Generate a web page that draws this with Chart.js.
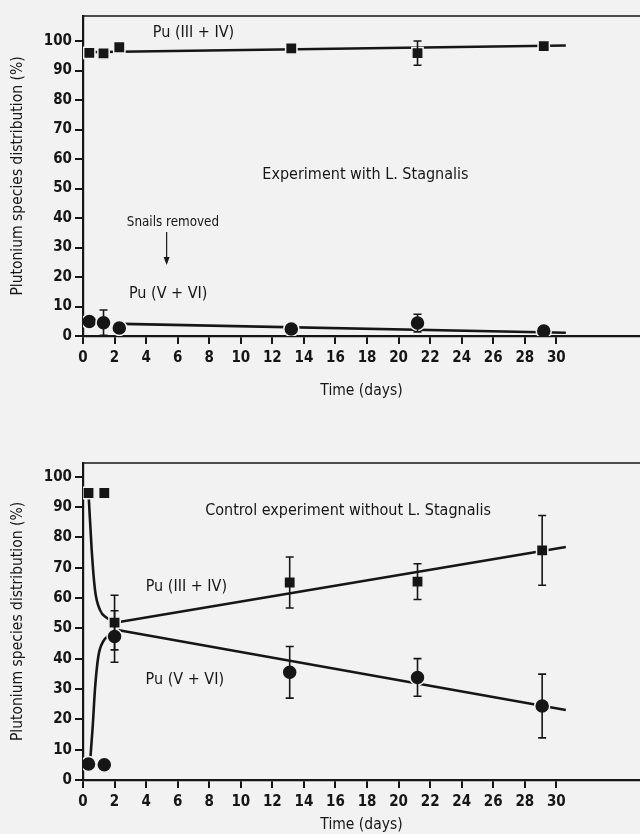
<!DOCTYPE html>
<html>
<head>
<meta charset="utf-8">
<script src="https://cdn.jsdelivr.net/npm/chart.js@4.4.1/dist/chart.umd.min.js"></script>
<style>
  html, body { margin: 0; padding: 0; background: #f2f2f2; }
  .panel { position: absolute; left: 0; width: 640px; }
  #topPanel { top: 0; height: 400px; }
  #bottomPanel { top: 400px; height: 434px; }
</style>
</head>
<body>
<div class="panel" id="topPanel"><canvas id="withSnailsChart"></canvas></div>
<div class="panel" id="bottomPanel"><canvas id="controlChart"></canvas></div>
<script>
const FONT = '"DejaVu Sans Condensed", "Liberation Sans Narrow", sans-serif';
const INK = '#161616';
const PAPER = '#f2f2f2';

// Experiment with L. stagnalis
const daysWith = [0.4, 1.3, 2.3, 13.2, 21.2, 29.2];
const pu34With = [96.0, 95.8, 97.9, 97.5, 95.9, 98.3];
const pu34WithErr = [0, 0, 0, 0, 4.1, 0];
const pu56With = [4.9, 4.5, 2.7, 2.4, 4.4, 1.7];
const pu56WithErr = [0, 4.3, 0, 0, 3.0, 0];
const fitDays34With = [0, 30.6];
const fit34With = [96.2, 98.5];
const fitDays56With = [2.5, 30.6];
const fit56With = [4.1, 1.1];

// Control experiment without snails
const daysCtrl = [0.35, 1.35, 2.0, 13.1, 21.2, 29.1];
const pu34Ctrl = [94.6, 94.6, 51.9, 65.1, 65.4, 75.7];
const pu34CtrlErr = [0, 0, 9.0, 8.4, 5.9, 11.5];
const pu56Ctrl = [5.3, 5.0, 47.3, 35.5, 33.8, 24.4];
const pu56CtrlErr = [0, 0, 8.5, 8.5, 6.2, 10.5];
const dropDays = [0.35, 0.55, 0.76, 1.08, 1.5, 2.1];
const drop34 = [94.6, 75.9, 62.7, 56.0, 53.5, 51.9];
const riseDays = [0.45, 0.62, 0.76, 0.97, 1.27, 1.6, 2.1];
const rise56 = [6, 18, 30, 40.7, 45.6, 47.5, 49.5];
const fitDaysCtrl = [2.1, 30.6];
const fit34Ctrl = [51.9, 76.8];
const fit56Ctrl = [49.5, 23.1];

// Axis ticks
const dayTicks = [0, 2, 4, 6, 8, 10, 12, 14, 16, 18, 20, 22, 24, 26, 28, 30];
const percentTicks = [0, 10, 20, 30, 40, 50, 60, 70, 80, 90, 100];

const pts = (xs, ys) => xs.map((x, i) => ({ x: x, y: ys[i] }));

function markers(xs, ys, errs, style) {
    return {
        type: 'scatter',
        data: pts(xs, ys),
        errors: errs,
        pointStyle: style,
        pointRadius: style === 'rect' ? 8 : 7.5,
        pointBackgroundColor: INK,
        pointBorderColor: PAPER,
        pointBorderWidth: 1.5,
        order: 1
    };
}

function curve(xs, ys, smooth) {
    return {
        type: 'line',
        data: pts(xs, ys),
        borderColor: INK,
        borderWidth: 2.6,
        pointRadius: 0,
        cubicInterpolationMode: smooth ? 'monotone' : 'default',
        tension: 0,
        order: 2
    };
}

// vertical error bars with caps
const errorBars = {
    id: 'errorBars',
    afterDatasetsDraw(chart) {
        const ctx = chart.ctx;
        const yScale = chart.scales.y;
        chart.data.datasets.forEach((ds, i) => {
            if (!ds.errors) return;
            const meta = chart.getDatasetMeta(i);
            ds.data.forEach((p, j) => {
                const e = ds.errors[j];
                if (!e) return;
                const x = meta.data[j].x;
                const yTop = yScale.getPixelForValue(p.y + e);
                const yBot = yScale.getPixelForValue(p.y - e);
                ctx.save();
                ctx.strokeStyle = INK;
                ctx.lineWidth = 1.6;
                ctx.beginPath();
                ctx.moveTo(x, yTop); ctx.lineTo(x, yBot);
                ctx.moveTo(x - 4, yTop); ctx.lineTo(x + 4, yTop);
                ctx.moveTo(x - 4, yBot); ctx.lineTo(x + 4, yBot);
                ctx.stroke();
                ctx.restore();
            });
        });
    }
};

// top frame line, in-plot labels and the arrow
const notes = {
    id: 'notes',
    afterDraw(chart, args, opts) {
        const ctx = chart.ctx;
        const area = chart.chartArea;
        const xs = chart.scales.x, ys = chart.scales.y;
        ctx.save();
        ctx.strokeStyle = INK;
        ctx.lineWidth = 1.5;
        ctx.beginPath();
        ctx.moveTo(area.left, area.top);
        ctx.lineTo(area.right, area.top);
        ctx.stroke();

        ctx.fillStyle = INK;
        ctx.textAlign = 'center';
        ctx.textBaseline = 'middle';
        (opts.labels || []).forEach(l => {
            ctx.font = (l.size || 16) + 'px ' + FONT;
            ctx.fillText(l.text, xs.getPixelForValue(l.x), ys.getPixelForValue(l.y));
        });

        (opts.arrows || []).forEach(a => {
            const x = xs.getPixelForValue(a.x);
            const y0 = ys.getPixelForValue(a.from);
            const y1 = ys.getPixelForValue(a.to);
            ctx.lineWidth = 1.2;
            ctx.beginPath();
            ctx.moveTo(x, y0);
            ctx.lineTo(x, y1 - 6);
            ctx.stroke();
            ctx.beginPath();
            ctx.moveTo(x, y1);
            ctx.lineTo(x - 3, y1 - 8);
            ctx.lineTo(x + 3, y1 - 8);
            ctx.closePath();
            ctx.fill();
        });
        ctx.restore();
    }
};

function buildChart(canvasId, datasets, cfg) {
    return new Chart(document.getElementById(canvasId).getContext('2d'), {
        type: 'scatter',
        data: { datasets: datasets },
        options: {
            responsive: true,
            maintainAspectRatio: false,
            animation: false,
            layout: { autoPadding: false, padding: { top: cfg.top, right: 0, left: 0, bottom: 0 } },
            plugins: {
                legend: { display: false },
                tooltip: { enabled: false },
                notes: { labels: cfg.labels, arrows: cfg.arrows }
            },
            scales: {
                x: {
                    type: 'linear',
                    min: 0,
                    max: 35.3,
                    afterBuildTicks: s => { s.ticks = dayTicks.map(v => ({ value: v })); },
                    afterFit: s => { s.height = cfg.xAxisHeight; },
                    grid: { drawOnChartArea: false, drawTicks: true, tickLength: 8, color: INK, lineWidth: 2 },
                    border: { display: true, color: INK, width: 2.2 },
                    ticks: {
                        color: INK,
                        padding: 5,
                        maxRotation: 0,
                        autoSkip: false,
                        font: { family: FONT, size: 15, weight: 'bold' }
                    },
                    title: {
                        display: true,
                        text: 'Time (days)',
                        color: INK,
                        padding: { top: cfg.xTitlePad, bottom: 0 },
                        font: { family: FONT, size: 15.5 }
                    }
                },
                y: {
                    min: 0,
                    max: cfg.yMax,
                    afterBuildTicks: s => { s.ticks = percentTicks.map(v => ({ value: v })); },
                    afterFit: s => { s.width = 83; },
                    grid: { drawOnChartArea: false, drawTicks: true, tickLength: 8, color: INK, lineWidth: 2 },
                    border: { display: true, color: INK, width: 2.2 },
                    ticks: {
                        color: INK,
                        padding: 3,
                        autoSkip: false,
                        font: { family: FONT, size: 15, weight: 'bold' }
                    },
                    title: {
                        display: true,
                        text: 'Plutonium species distribution (%)',
                        color: INK,
                        padding: { top: 9, bottom: 0 },
                        font: { family: FONT, size: 15.5 }
                    }
                }
            }
        },
        plugins: [errorBars, notes]
    });
}

buildChart('withSnailsChart', [
    markers(daysWith, pu34With, pu34WithErr, 'rect'),
    markers(daysWith, pu56With, pu56WithErr, 'circle'),
    curve(fitDays34With, fit34With, false),
    curve(fitDays56With, fit56With, false)
], {
    top: 16,
    yMax: 108.5,
    xAxisHeight: 64,
    xTitlePad: 10,
    labels: [
        { text: 'Pu (III + IV)', x: 7.0, y: 102.7 },
        { text: 'Experiment with L. Stagnalis', x: 17.9, y: 54.6 },
        { text: 'Snails removed', x: 5.7, y: 38.4, size: 13.3 },
        { text: 'Pu (V + VI)', x: 5.4, y: 14.2 }
    ],
    arrows: [{ x: 5.3, from: 35.3, to: 24.1 }]
});

buildChart('controlChart', [
    markers(daysCtrl, pu34Ctrl, pu34CtrlErr, 'rect'),
    markers(daysCtrl, pu56Ctrl, pu56CtrlErr, 'circle'),
    curve(dropDays, drop34, true),
    curve(riseDays, rise56, true),
    curve(fitDaysCtrl, fit34Ctrl, false),
    curve(fitDaysCtrl, fit56Ctrl, false)
], {
    top: 63,
    yMax: 104.5,
    xAxisHeight: 54,
    xTitlePad: 0,
    labels: [
        { text: 'Control experiment without L. Stagnalis', x: 16.8, y: 88.7 },
        { text: 'Pu (III + IV)', x: 6.55, y: 63.7 },
        { text: 'Pu (V + VI)', x: 6.45, y: 33.1 }
    ],
    arrows: []
});
</script>
</body>
</html>
